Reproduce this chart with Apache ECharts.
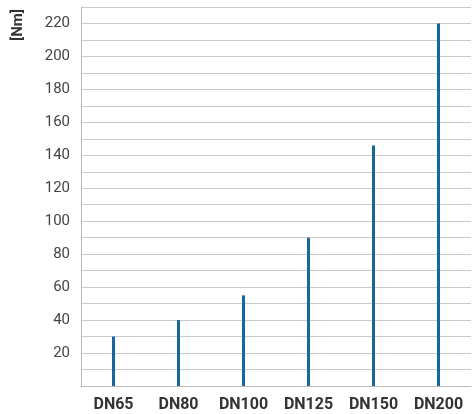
<!DOCTYPE html>
<html>
<head>
<meta charset="utf-8">
<script src="https://cdn.jsdelivr.net/npm/echarts@6/dist/echarts.min.js"></script>
<style>
html, body { margin: 0; padding: 0; background: #fff; }
#box1 { width: 473px; height: 414px; }
</style>
</head>
<body>
<div id="box1"></div>
<script>
var categories = ['DN65', 'DN80', 'DN100', 'DN125', 'DN150', 'DN200'];
var torque = [30, 40, 55, 90, 146, 220];
var yLabels = [20, 40, 60, 80, 100, 120, 140, 160, 180, 200, 220];

window.onload = function () {
    var myChart = echarts.init(document.getElementById('box1'));
    var font = 'Roboto, sans-serif';

    var option = {
        animation: false,
        grid: { left: 81, right: 2, top: 7, bottom: 28 },
        graphic: [{
            type: 'text',
            x: 11,
            y: 9,
            rotation: Math.PI / 2,
            style: {
                text: '[Nm]',
                font: 'bold 15px ' + font,
                fill: '#333',
                textAlign: 'right',
                textVerticalAlign: 'top'
            }
        }],
        xAxis: {
            type: 'category',
            data: categories,
            axisTick: { show: false },
            axisLine: { lineStyle: { color: '#bbb', width: 1 } },
            axisLabel: {
                fontFamily: font,
                fontWeight: 'bold',
                fontSize: 16,
                color: '#333',
                margin: 11
            }
        },
        yAxis: {
            type: 'value',
            min: 0,
            max: 230,
            interval: 10,
            axisLine: { show: true, lineStyle: { color: '#bbb', width: 1 } },
            axisTick: { show: false },
            splitLine: { lineStyle: { color: '#cacaca', width: 1 } },
            axisLabel: {
                fontFamily: font,
                fontSize: 15,
                color: '#444',
                margin: 11,
                formatter: function (v) {
                    return yLabels.indexOf(v) >= 0 ? String(v) : '';
                }
            }
        },
        series: [{
            type: 'bar',
            data: torque,
            barWidth: 3,
            itemStyle: { color: '#17689a' }
        }]
    };
    myChart.setOption(option);
    window.addEventListener('resize', function () {
        myChart.resize();
    });
};
</script>
</body>
</html>
